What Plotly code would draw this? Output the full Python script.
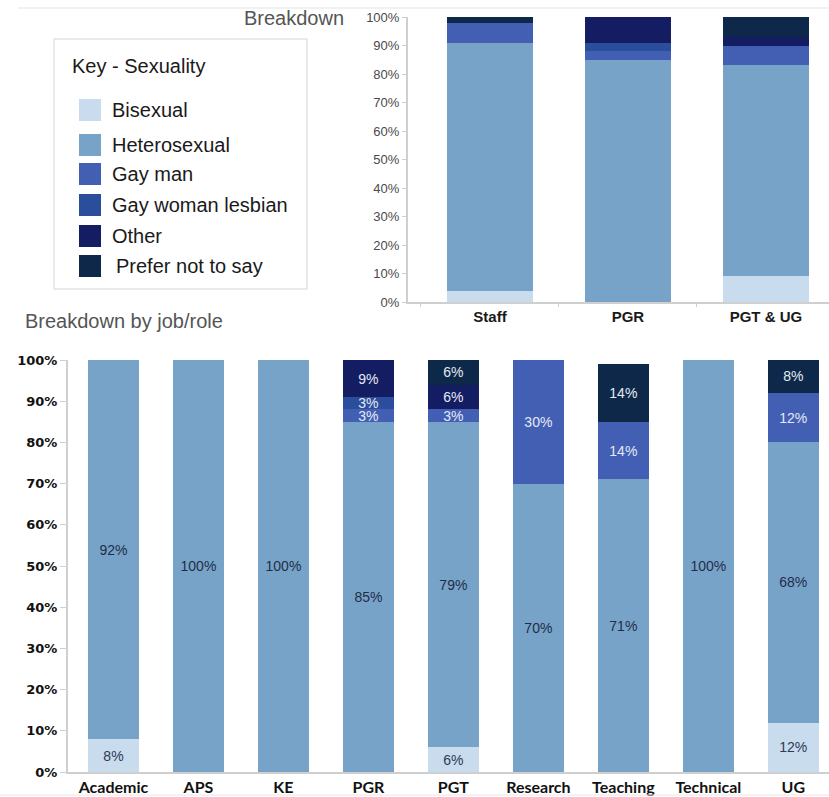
import plotly.graph_objects as go

W, H = 829, 797

# Sexuality categories, stacking order bottom -> top
series = ["Bisexual", "Heterosexual", "Gay man", "Gay woman lesbian", "Other", "Prefer not to say"]
colors = ["#c9dcee", "#78a3c8", "#425fb4", "#2b4e9c", "#141c62", "#0d2848"]
label_colors = ["#2c3a55", "#1f2d48", "#e4eaf5", "#e4eaf5", "#e4eaf5", "#e4eaf5"]

# Overall breakdown (%)
overview_groups = ["Staff", "PGR", "PGT & UG"]
overview_bisexual = [4, 0, 9]
overview_heterosexual = [87, 85, 74]
overview_gay_man = [7, 3, 7]
overview_gay_woman = [0, 3, 0]
overview_other = [0, 9, 3]
overview_prefer_not = [2, 0, 7]

# Breakdown by job/role (%)
roles = ["Academic", "APS", "KE", "PGR", "PGT", "Research", "Teaching", "Technical", "UG"]
role_bisexual = [8, 0, 0, 0, 6, 0, 0, 0, 12]
role_heterosexual = [92, 100, 100, 85, 79, 70, 71, 100, 68]
role_gay_man = [0, 0, 0, 3, 3, 30, 14, 0, 12]
role_gay_woman = [0, 0, 0, 3, 0, 0, 0, 0, 0]
role_other = [0, 0, 0, 9, 6, 0, 0, 0, 0]
role_prefer_not = [0, 0, 0, 0, 6, 0, 14, 0, 8]

overview_values = [overview_bisexual, overview_heterosexual, overview_gay_man,
                   overview_gay_woman, overview_other, overview_prefer_not]
role_values = [role_bisexual, role_heterosexual, role_gay_man,
               role_gay_woman, role_other, role_prefer_not]

pct_ticks = list(range(0, 101, 10))
pct_labels = [f"{v}%" for v in pct_ticks]

ARIAL = "Liberation Sans, Arial, sans-serif"


def px(x):
    return x / W


def py(y):
    return 1 - y / H


fig = go.Figure()

# Top chart: overall breakdown
for name, vals, col in zip(series, overview_values, colors):
    fig.add_trace(go.Bar(
        x=overview_groups, y=vals, name=name, marker=dict(color=col, line=dict(width=0)),
        width=0.62, xaxis="x", yaxis="y", showlegend=False, hoverinfo="x+y+name",
    ))

# Bottom chart: breakdown by job/role, with value labels
for name, vals, col, tcol in zip(series, role_values, colors, label_colors):
    fig.add_trace(go.Bar(
        x=roles, y=vals, name=name, marker=dict(color=col, line=dict(width=0)),
        width=0.6, xaxis="x2", yaxis="y2", showlegend=False,
        text=[f"{v}%" if v else "" for v in vals],
        textposition="inside", insidetextanchor="middle", textangle=0,
        textfont=dict(family=ARIAL, size=14, color=tcol),
        hoverinfo="x+y+name",
    ))

axis_line = "#cfcfcf"

fig.update_layout(
    width=W, height=H,
    margin=dict(l=0, r=0, t=0, b=0, autoexpand=False),
    paper_bgcolor="white", plot_bgcolor="white",
    barmode="stack", bargap=0.4,
    uniformtext=dict(mode="show", minsize=14),
    xaxis=dict(
        domain=[px(408), 1], range=[-0.594, 2.457], type="category", automargin=False,
        showline=True, linecolor=axis_line, linewidth=2, showgrid=False,
        ticks="outside", tickson="boundaries", ticklen=3, tickcolor=axis_line,
        tickfont=dict(family=ARIAL, size=15, color="#1a1a1a", weight="bold"),
        anchor="y", fixedrange=True,
    ),
    yaxis=dict(
        domain=[py(302), py(17)], range=[0, 100], automargin=False,
        tickvals=pct_ticks, ticktext=pct_labels,
        showline=True, linecolor=axis_line, linewidth=2, showgrid=False, zeroline=False,
        ticks="outside", ticklen=4, tickcolor=axis_line,
        tickfont=dict(family=ARIAL, size=13, color="#4a4a4a"),
        anchor="x", fixedrange=True,
    ),
    xaxis2=dict(
        domain=[px(68), 1], range=[-0.535, 8.42], type="category", automargin=False,
        showline=True, linecolor=axis_line, linewidth=2, showgrid=False,
        ticks="", tickfont=dict(family="Lato, sans-serif", size=16, color="#111111", weight="bold"),
        anchor="y2", fixedrange=True,
    ),
    yaxis2=dict(
        domain=[py(772), py(360)], range=[0, 100], automargin=False,
        tickvals=pct_ticks, ticktext=pct_labels,
        showline=True, linecolor=axis_line, linewidth=2, showgrid=False, zeroline=False,
        ticks="outside", ticklen=6, tickcolor=axis_line,
        tickfont=dict(family="DejaVu Sans, sans-serif", size=13, color="#111111", weight="bold"),
        anchor="x2", fixedrange=True,
    ),
)

shapes = []
annotations = []

# Thin separators
shapes.append(dict(type="line", xref="paper", yref="paper", x0=px(18), x1=1, y0=py(8), y1=py(8),
                   line=dict(color="#e3e3e3", width=1)))
shapes.append(dict(type="line", xref="paper", yref="paper", x0=0, x1=1, y0=py(795), y1=py(795),
                   line=dict(color="#e6e6e6", width=1)))

# Titles
annotations.append(dict(text="Breakdown", xref="paper", yref="paper", x=px(346), y=py(18),
                        xanchor="right", yanchor="middle", showarrow=False,
                        font=dict(family=ARIAL, size=20, color="#555555")))
annotations.append(dict(text="Breakdown by job/role", xref="paper", yref="paper", x=px(23), y=py(321),
                        xanchor="left", yanchor="middle", showarrow=False,
                        font=dict(family=ARIAL, size=20, color="#555555")))

# Key box
shapes.append(dict(type="rect", xref="paper", yref="paper", x0=px(54), x1=px(307), y0=py(289), y1=py(39),
                   line=dict(color="#d4d4d4", width=1), fillcolor="rgba(0,0,0,0)"))
annotations.append(dict(text="Key - Sexuality", xref="paper", yref="paper", x=px(70), y=py(66),
                        xanchor="left", yanchor="middle", showarrow=False,
                        font=dict(family=ARIAL, size=20, color="#1a1a1a")))

key_rows = [110, 145, 174, 205, 236, 266]
key_text_x = [110, 110, 110, 110, 110, 114]
for name, col, yc, tx in zip(series, colors, key_rows, key_text_x):
    shapes.append(dict(type="rect", xref="paper", yref="paper", x0=px(79), x1=px(101),
                       y0=py(yc + 11), y1=py(yc - 11), line=dict(width=0), fillcolor=col))
    annotations.append(dict(text=name, xref="paper", yref="paper", x=px(tx), y=py(yc),
                            xanchor="left", yanchor="middle", showarrow=False,
                            font=dict(family=ARIAL, size=20, color="#1a1a1a")))

fig.update_layout(shapes=shapes, annotations=annotations)

fig.write_html("out.html")
